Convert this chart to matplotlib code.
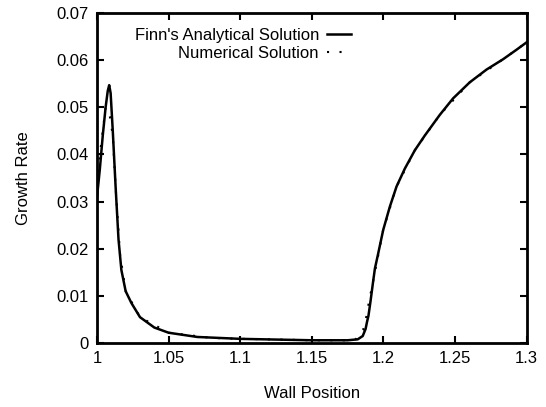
import numpy as np
import matplotlib
matplotlib.use('Agg')
import matplotlib.pyplot as plt

plt.rcParams['font.family'] = ['Liberation Sans', 'DejaVu Sans']

# Finn's analytical solution
wall_an = [1.0, 1.002, 1.004, 1.006, 1.0075, 1.0085, 1.0095, 1.011, 1.013, 1.015,
           1.017, 1.02, 1.024, 1.03, 1.04, 1.05, 1.07, 1.1, 1.15, 1.175,
           1.182, 1.1855, 1.1875, 1.1885, 1.1895, 1.191, 1.1926, 1.194, 1.1963, 1.1998,
           1.2044, 1.2091, 1.2149, 1.2219, 1.2288, 1.2393, 1.2486, 1.2602, 1.2719, 1.2835,
           1.2928, 1.3]
rate_an = [0.031, 0.037, 0.044, 0.050, 0.0535, 0.0547, 0.053, 0.045, 0.033, 0.022,
           0.0155, 0.011, 0.0085, 0.0055, 0.0033, 0.0022, 0.0013, 0.0009, 0.0006, 0.0006,
           0.0008, 0.0015, 0.003, 0.0045, 0.0058, 0.009, 0.0127, 0.0158, 0.0190, 0.0240,
           0.0289, 0.0332, 0.0370, 0.0409, 0.0440, 0.0484, 0.0519, 0.0553, 0.0580, 0.0602,
           0.0622, 0.0638]

# numerical solution points
wall_num = [1.0, 1.002, 1.004, 1.006, 1.009, 1.011, 1.013, 1.016, 1.02, 1.03,
            1.05, 1.08, 1.1, 1.12, 1.15, 1.18, 1.1858, 1.1877, 1.19, 1.193,
            1.1998, 1.2091, 1.2219, 1.2393, 1.2602, 1.2835, 1.3]
rate_num = [0.031, 0.040, 0.045, 0.050, 0.048, 0.044, 0.033, 0.019, 0.011, 0.0055,
            0.0022, 0.0011, 0.0009, 0.0008, 0.0006, 0.0006, 0.0028, 0.0051, 0.009, 0.0135,
            0.0240, 0.0332, 0.0409, 0.0484, 0.0553, 0.0602, 0.0638]

fig = plt.figure(figsize=(5.46, 4.07), dpi=100)
ax = fig.add_axes([0.1777, 0.157, 0.787, 0.811])

ax.plot(wall_an, rate_an, color='black', lw=1.8, label="Finn's Analytical Solution")
ax.plot(wall_num, rate_num, color='black', lw=1.5, ls=(0, (1, 5)), label='Numerical Solution')

ax.set_xlim(1, 1.3)
ax.set_ylim(0, 0.07)
ax.set_xticks([1, 1.05, 1.1, 1.15, 1.2, 1.25, 1.3])
ax.set_xticklabels(['1', '1.05', '1.1', '1.15', '1.2', '1.25', '1.3'])
ax.set_yticks([0, 0.01, 0.02, 0.03, 0.04, 0.05, 0.06, 0.07])
ax.set_yticklabels(['0', '0.01', '0.02', '0.03', '0.04', '0.05', '0.06', '0.07'])
ax.tick_params(direction='in', top=True, right=True, length=5, width=1.5,
               labelsize=12, pad=6)
for s in ax.spines.values():
    s.set_linewidth(2)

ax.set_xlabel('Wall Position', fontsize=12, labelpad=14)
ax.set_ylabel('Growth Rate', fontsize=12, labelpad=18)

ax.legend(loc='upper right', bbox_to_anchor=(0.59, 0.955), frameon=False,
          fontsize=12, markerfirst=False, handlelength=1.4,
          handletextpad=0.5, labelspacing=0.2, borderpad=0, borderaxespad=0)

fig.savefig('out.png', dpi=100)
